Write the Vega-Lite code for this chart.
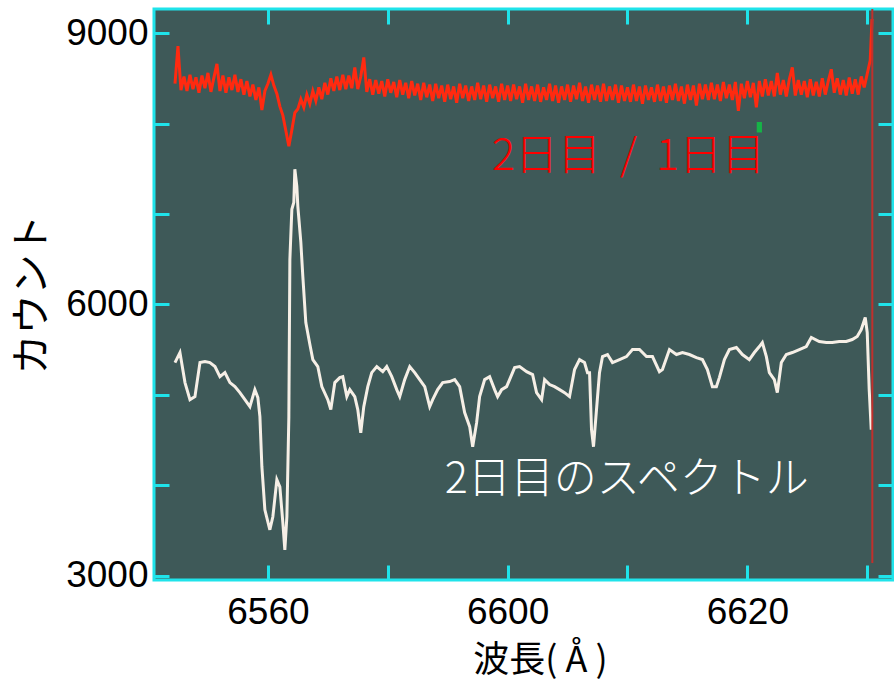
{
  "$schema": "https://vega.github.io/schema/vega-lite/v6.json",
  "width": 739,
  "height": 571,
  "autosize": "none",
  "padding": {"left": 154, "top": 9, "right": 1, "bottom": 100},
  "background": "#ffffff",
  "config": {
    "view": {"fill": "#3e5958", "stroke": "#1fe3ea", "strokeWidth": 3},
    "axis": {"domain": false, "grid": false, "tickColor": "#1fe3ea", "tickWidth": 3, "tickSize": -15, "labelFont": "Liberation Sans", "labelFontSize": 37, "labelColor": "#000000", "titleFont": "Noto Sans CJK JP", "titleFontWeight": "normal", "titleColor": "#000000", "titleFontSize": 36}
  },
  "datasets": {
    "red": [
      {"w":6544.5,"v":8440},{"w":6545.0,"v":8856},{"w":6545.5,"v":8370},{"w":6546.0,"v":8520},{"w":6546.5,"v":8360},{"w":6547.0,"v":8540},{"w":6547.5,"v":8380},{"w":6548.0,"v":8510},{"w":6548.5,"v":8340},{"w":6549.0,"v":8530},{"w":6549.5,"v":8390},{"w":6550.0,"v":8560},{"w":6550.5,"v":8350},{"w":6551.0,"v":8510},{"w":6551.5,"v":8660},{"w":6552.0,"v":8360},{"w":6552.5,"v":8530},{"w":6553.0,"v":8340},{"w":6553.5,"v":8510},{"w":6554.0,"v":8370},{"w":6554.5,"v":8540},{"w":6555.0,"v":8350},{"w":6555.5,"v":8490},{"w":6556.0,"v":8320},{"w":6556.5,"v":8470},{"w":6557.0,"v":8300},{"w":6557.5,"v":8430},{"w":6558.0,"v":8260},{"w":6558.5,"v":8400},{"w":6559.0,"v":8150},{"w":6559.5,"v":8360},{"w":6560.0,"v":8440},{"w":6560.5,"v":8540},{"w":6561.0,"v":8420},{"w":6561.5,"v":8330},{"w":6562.0,"v":8190},{"w":6562.5,"v":8090},{"w":6563.0,"v":7920},{"w":6563.5,"v":7750},{"w":6564.0,"v":7930},{"w":6564.5,"v":8120},{"w":6565.0,"v":8160},{"w":6565.5,"v":8270},{"w":6566.0,"v":8180},{"w":6566.5,"v":8320},{"w":6567.0,"v":8220},{"w":6567.5,"v":8360},{"w":6568.0,"v":8250},{"w":6568.5,"v":8400},{"w":6569.0,"v":8270},{"w":6569.5,"v":8450},{"w":6570.0,"v":8320},{"w":6570.5,"v":8500},{"w":6571.0,"v":8360},{"w":6571.5,"v":8520},{"w":6572.0,"v":8370},{"w":6572.5,"v":8540},{"w":6573.0,"v":8380},{"w":6573.5,"v":8530},{"w":6574.0,"v":8390},{"w":6574.5,"v":8620},{"w":6575.0,"v":8380},{"w":6575.5,"v":8520},{"w":6576.0,"v":8730},{"w":6576.5,"v":8350},{"w":6577.0,"v":8490},{"w":6577.5,"v":8320},{"w":6578.0,"v":8480},{"w":6578.5,"v":8330},{"w":6579.0,"v":8470},{"w":6579.5,"v":8300},{"w":6580.0,"v":8490},{"w":6580.5,"v":8340},{"w":6581.0,"v":8460},{"w":6581.5,"v":8290},{"w":6582.0,"v":8480},{"w":6582.5,"v":8320},{"w":6583.0,"v":8450},{"w":6583.5,"v":8280},{"w":6584.0,"v":8470},{"w":6584.5,"v":8310},{"w":6585.0,"v":8440},{"w":6585.5,"v":8260},{"w":6586.0,"v":8450},{"w":6586.5,"v":8290},{"w":6587.0,"v":8430},{"w":6587.5,"v":8250},{"w":6588.0,"v":8440},{"w":6588.5,"v":8280},{"w":6589.0,"v":8420},{"w":6589.5,"v":8240},{"w":6590.0,"v":8430},{"w":6590.5,"v":8270},{"w":6591.0,"v":8410},{"w":6591.5,"v":8230},{"w":6592.0,"v":8440},{"w":6592.5,"v":8280},{"w":6593.0,"v":8420},{"w":6593.5,"v":8250},{"w":6594.0,"v":8410},{"w":6594.5,"v":8260},{"w":6595.0,"v":8450},{"w":6595.5,"v":8270},{"w":6596.0,"v":8420},{"w":6596.5,"v":8240},{"w":6597.0,"v":8430},{"w":6597.5,"v":8280},{"w":6598.0,"v":8410},{"w":6598.5,"v":8240},{"w":6599.0,"v":8440},{"w":6599.5,"v":8260},{"w":6600.0,"v":8420},{"w":6600.5,"v":8250},{"w":6601.0,"v":8430},{"w":6601.5,"v":8270},{"w":6602.0,"v":8410},{"w":6602.5,"v":8230},{"w":6603.0,"v":8440},{"w":6603.5,"v":8260},{"w":6604.0,"v":8410},{"w":6604.5,"v":8250},{"w":6605.0,"v":8430},{"w":6605.5,"v":8240},{"w":6606.0,"v":8400},{"w":6606.5,"v":8260},{"w":6607.0,"v":8440},{"w":6607.5,"v":8250},{"w":6608.0,"v":8420},{"w":6608.5,"v":8230},{"w":6609.0,"v":8410},{"w":6609.5,"v":8260},{"w":6610.0,"v":8430},{"w":6610.5,"v":8240},{"w":6611.0,"v":8420},{"w":6611.5,"v":8270},{"w":6612.0,"v":8450},{"w":6612.5,"v":8250},{"w":6613.0,"v":8410},{"w":6613.5,"v":8230},{"w":6614.0,"v":8430},{"w":6614.5,"v":8260},{"w":6615.0,"v":8420},{"w":6615.5,"v":8240},{"w":6616.0,"v":8440},{"w":6616.5,"v":8250},{"w":6617.0,"v":8410},{"w":6617.5,"v":8260},{"w":6618.0,"v":8430},{"w":6618.5,"v":8230},{"w":6619.0,"v":8420},{"w":6619.5,"v":8250},{"w":6620.0,"v":8400},{"w":6620.5,"v":8240},{"w":6621.0,"v":8430},{"w":6621.5,"v":8250},{"w":6622.0,"v":8410},{"w":6622.5,"v":8220},{"w":6623.0,"v":8420},{"w":6623.5,"v":8260},{"w":6624.0,"v":8400},{"w":6624.5,"v":8240},{"w":6625.0,"v":8430},{"w":6625.5,"v":8250},{"w":6626.0,"v":8410},{"w":6626.5,"v":8230},{"w":6627.0,"v":8420},{"w":6627.5,"v":8260},{"w":6628.0,"v":8440},{"w":6628.5,"v":8250},{"w":6629.0,"v":8410},{"w":6629.5,"v":8220},{"w":6630.0,"v":8430},{"w":6630.5,"v":8260},{"w":6631.0,"v":8420},{"w":6631.5,"v":8200},{"w":6632.0,"v":8440},{"w":6632.5,"v":8270},{"w":6633.0,"v":8430},{"w":6633.5,"v":8260},{"w":6634.0,"v":8450},{"w":6634.5,"v":8270},{"w":6635.0,"v":8430},{"w":6635.5,"v":8250},{"w":6636.0,"v":8460},{"w":6636.5,"v":8280},{"w":6637.0,"v":8430},{"w":6637.5,"v":8260},{"w":6638.0,"v":8460},{"w":6638.5,"v":8140},{"w":6639.0,"v":8440},{"w":6639.5,"v":8280},{"w":6640.0,"v":8470},{"w":6640.5,"v":8290},{"w":6641.0,"v":8450},{"w":6641.5,"v":8180},{"w":6642.0,"v":8470},{"w":6642.5,"v":8300},{"w":6643.0,"v":8490},{"w":6643.5,"v":8310},{"w":6644.0,"v":8470},{"w":6644.5,"v":8300},{"w":6645.0,"v":8560},{"w":6645.5,"v":8320},{"w":6646.0,"v":8480},{"w":6646.5,"v":8300},{"w":6647.0,"v":8490},{"w":6647.5,"v":8620},{"w":6648.0,"v":8310},{"w":6648.5,"v":8480},{"w":6649.0,"v":8320},{"w":6649.5,"v":8470},{"w":6650.0,"v":8290},{"w":6650.5,"v":8490},{"w":6651.0,"v":8310},{"w":6651.5,"v":8460},{"w":6652.0,"v":8300},{"w":6652.5,"v":8500},{"w":6653.0,"v":8320},{"w":6653.5,"v":8470},{"w":6654.0,"v":8600},{"w":6654.5,"v":8340},{"w":6655.0,"v":8500},{"w":6655.5,"v":8320},{"w":6656.0,"v":8480},{"w":6656.5,"v":8310},{"w":6657.0,"v":8510},{"w":6657.5,"v":8330},{"w":6658.0,"v":8490},{"w":6658.5,"v":8320},{"w":6659.0,"v":8520},{"w":6659.5,"v":8400},{"w":6660.0,"v":8550},{"w":6660.5,"v":8700},{"w":6660.8,"v":9155}
    ],
    "white": [
      {"w":6544.5,"v":5358},{"w":6545.33,"v":5469},{"w":6546.17,"v":5137},{"w":6547.0,"v":4948},{"w":6547.83,"v":4982},{"w":6548.67,"v":5358},{"w":6549.5,"v":5369},{"w":6550.33,"v":5358},{"w":6551.17,"v":5314},{"w":6552.0,"v":5203},{"w":6552.83,"v":5247},{"w":6553.67,"v":5137},{"w":6554.5,"v":5092},{"w":6555.33,"v":5026},{"w":6556.17,"v":4948},{"w":6557.0,"v":4871},{"w":6557.83,"v":5059},{"w":6558.33,"v":4971},{"w":6558.67,"v":4760},{"w":6559.0,"v":4207},{"w":6559.5,"v":3731},{"w":6560.33,"v":3510},{"w":6560.83,"v":3654},{"w":6561.5,"v":4063},{"w":6562.0,"v":3985},{"w":6562.5,"v":3587},{"w":6562.83,"v":3288},{"w":6563.17,"v":3654},{"w":6563.5,"v":4760},{"w":6563.67,"v":6498},{"w":6564.0,"v":7052},{"w":6564.33,"v":7129},{"w":6564.5,"v":7495},{"w":6564.83,"v":7306},{"w":6565.0,"v":7085},{"w":6565.5,"v":6686},{"w":6565.83,"v":6310},{"w":6566.33,"v":5801},{"w":6567.0,"v":5560},{"w":6567.5,"v":5391},{"w":6568.33,"v":5314},{"w":6569.0,"v":5092},{"w":6570.0,"v":4948},{"w":6570.5,"v":4838},{"w":6571.17,"v":5137},{"w":6572.0,"v":5192},{"w":6572.5,"v":5203},{"w":6573.17,"v":4982},{"w":6573.67,"v":5059},{"w":6574.5,"v":4982},{"w":6575.0,"v":4838},{"w":6575.5,"v":4583},{"w":6576.0,"v":4871},{"w":6576.67,"v":5092},{"w":6577.33,"v":5247},{"w":6578.17,"v":5314},{"w":6579.17,"v":5258},{"w":6579.83,"v":5314},{"w":6580.67,"v":5203},{"w":6581.5,"v":5059},{"w":6582.0,"v":4982},{"w":6582.83,"v":5170},{"w":6583.67,"v":5314},{"w":6584.5,"v":5247},{"w":6585.33,"v":5170},{"w":6586.17,"v":5092},{"w":6587.0,"v":4871},{"w":6587.5,"v":4948},{"w":6588.33,"v":5059},{"w":6589.17,"v":5137},{"w":6590.33,"v":5148},{"w":6591.17,"v":5170},{"w":6592.0,"v":5092},{"w":6592.83,"v":4805},{"w":6593.67,"v":4650},{"w":6594.17,"v":4428},{"w":6594.83,"v":4694},{"w":6595.33,"v":4982},{"w":6596.17,"v":5170},{"w":6597.0,"v":5203},{"w":6597.83,"v":5059},{"w":6598.33,"v":4982},{"w":6599.0,"v":5059},{"w":6599.83,"v":5092},{"w":6600.33,"v":5170},{"w":6601.17,"v":5303},{"w":6602.0,"v":5314},{"w":6603.17,"v":5258},{"w":6604.17,"v":5225},{"w":6604.83,"v":5026},{"w":6605.67,"v":4948},{"w":6606.17,"v":5170},{"w":6607.0,"v":5115},{"w":6607.83,"v":5092},{"w":6608.67,"v":5059},{"w":6609.5,"v":5026},{"w":6610.33,"v":4982},{"w":6611.17,"v":5281},{"w":6612.0,"v":5391},{"w":6612.83,"v":5358},{"w":6613.33,"v":5247},{"w":6613.67,"v":5247},{"w":6614.0,"v":4616},{"w":6614.33,"v":4428},{"w":6614.83,"v":4838},{"w":6615.33,"v":5247},{"w":6615.83,"v":5424},{"w":6616.67,"v":5447},{"w":6617.5,"v":5358},{"w":6618.67,"v":5391},{"w":6619.83,"v":5424},{"w":6620.83,"v":5502},{"w":6622.0,"v":5502},{"w":6623.17,"v":5424},{"w":6624.17,"v":5424},{"w":6625.33,"v":5258},{"w":6625.83,"v":5281},{"w":6627.0,"v":5502},{"w":6628.17,"v":5447},{"w":6629.17,"v":5469},{"w":6630.33,"v":5447},{"w":6631.5,"v":5413},{"w":6632.5,"v":5391},{"w":6633.33,"v":5281},{"w":6634.17,"v":5092},{"w":6634.83,"v":5092},{"w":6635.33,"v":5192},{"w":6636.17,"v":5391},{"w":6637.0,"v":5502},{"w":6638.17,"v":5524},{"w":6639.17,"v":5447},{"w":6640.33,"v":5391},{"w":6641.17,"v":5469},{"w":6642.0,"v":5535},{"w":6642.5,"v":5579},{"w":6643.17,"v":5424},{"w":6643.67,"v":5247},{"w":6644.5,"v":5170},{"w":6645.0,"v":5026},{"w":6645.67,"v":5358},{"w":6646.5,"v":5447},{"w":6647.5,"v":5469},{"w":6648.67,"v":5502},{"w":6649.83,"v":5535},{"w":6650.67,"v":5635},{"w":6652.0,"v":5591},{"w":6653.17,"v":5579},{"w":6654.17,"v":5579},{"w":6655.33,"v":5591},{"w":6656.5,"v":5591},{"w":6657.5,"v":5613},{"w":6658.33,"v":5646},{"w":6659.0,"v":5723},{"w":6659.67,"v":5856},{"w":6660.0,"v":5690},{"w":6660.33,"v":5059},{"w":6660.67,"v":4616}
    ]
  },
  "layer": [
    {
      "layer": [
        {
          "data": {"name": "red"},
          "mark": {"type": "line", "color": "#ff2a10", "strokeWidth": 3, "clip": true},
          "encoding": {
            "x": {"field": "w", "type": "quantitative", "scale": {"domain": [6541, 6664.3], "nice": false, "zero": false},
              "axis": {"orient": "bottom", "values": [6560, 6580, 6600, 6620, 6640, 6660], "labelExpr": "datum.value == 6560 ? '6560' : datum.value == 6600 ? '6600' : datum.value == 6640 ? '6620' : ''", "labelPadding": 29, "title": "波長( Å )", "titleX": 386, "titleY": 80, "titleBaseline": "middle", "titleAnchor": "middle"}},
            "y": {"field": "v", "type": "quantitative", "scale": {"domain": [2955, 9266], "nice": false, "zero": false},
              "axis": {"orient": "left", "values": [3000, 4000, 5000, 6000, 7000, 8000, 9000], "labelExpr": "datum.value == 3000 ? '3000' : datum.value == 6000 ? '6000' : datum.value == 9000 ? '9000' : ''", "labelPadding": 21, "title": "カウント", "titleX": -122, "titleY": 285, "titleAnchor": "middle", "titleBaseline": "middle", "titleFontSize": 40}}
          }
        },
        {
          "data": {"name": "white"},
          "mark": {"type": "line", "color": "#f6efe6", "strokeWidth": 3, "clip": true},
          "encoding": {
            "x": {"field": "w", "type": "quantitative"},
            "y": {"field": "v", "type": "quantitative"}
          }
        },
        {
          "data": {"values": [{"w": 6597.4, "v": 7627, "t": "2日目\u00a0\u00a0/\u00a0\u00a01日目", "c": "#ff0000"}, {"w": 6589.5, "v": 4063, "t": "2日目のスペクトル", "c": "#ffffff"}]},
          "mark": {"type": "text", "align": "left", "baseline": "middle", "font": "Noto Sans CJK JP", "fontSize": 43, "fontWeight": 300},
          "encoding": {
            "x": {"field": "w", "type": "quantitative"},
            "y": {"field": "v", "type": "quantitative"},
            "text": {"field": "t"},
            "color": {"field": "c", "type": "nominal", "scale": null}
          }
        },
        {
          "data": {"values": [{"w": 6642.0, "v": 7959}]},
          "mark": {"type": "point", "shape": "M-0.5,-1L0.5,-1L0.5,1L-0.5,1Z", "filled": true, "size": 110, "color": "#16b347", "opacity": 1},
          "encoding": {
            "x": {"field": "w", "type": "quantitative"},
            "y": {"field": "v", "type": "quantitative"}
          }
        }
      ]
    },
    {
      "data": {"values": [{"w": 6660.85, "v1": 3144, "v2": 9266}]},
      "mark": {"type": "rule", "color": "#c0302c", "strokeWidth": 2},
      "encoding": {
        "x": {"field": "w", "type": "quantitative", "scale": {"domain": [6541, 6664.3], "nice": false, "zero": false},
          "axis": {"orient": "top", "values": [6560, 6580, 6600, 6620, 6640, 6660], "labels": false, "title": null}},
        "y": {"field": "v1", "type": "quantitative", "scale": {"domain": [2955, 9266], "nice": false, "zero": false},
          "axis": {"orient": "right", "values": [3000, 4000, 5000, 6000, 7000, 8000, 9000], "labels": false, "title": null}},
        "y2": {"field": "v2"}
      }
    }
  ],
  "resolve": {"axis": {"x": "independent", "y": "independent"}}
}
